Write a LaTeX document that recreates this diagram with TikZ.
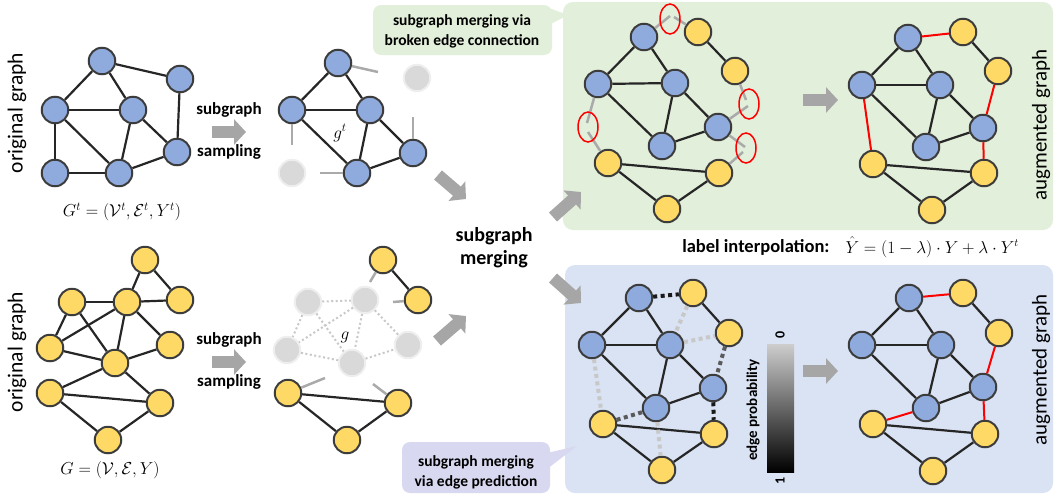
\documentclass[tikz,border=0pt]{standalone}
\usepackage{fontspec}
\setmainfont{Carlito}
\usetikzlibrary{arrows.meta,positioning,shapes.geometric}

\definecolor{nodeblue}{RGB}{143,170,220}
\definecolor{nodeyellow}{RGB}{255,217,102}
\definecolor{nodegray}{RGB}{217,217,217}
\definecolor{linkdark}{RGB}{38,38,38}
\definecolor{stubgray}{RGB}{170,170,170}
\definecolor{arrowgray}{RGB}{166,166,166}
\definecolor{panelgreen}{RGB}{226,239,218}
\definecolor{panelblue}{RGB}{218,227,243}
\definecolor{calloutpurple}{RGB}{216,216,241}
\definecolor{problight}{RGB}{200,200,200}
\definecolor{probmid}{RGB}{90,90,90}
\definecolor{probdark}{RGB}{25,25,25}

\tikzset{
  vtx/.style={circle, minimum size=26.5pt, inner sep=0pt, line width=2pt, draw=linkdark!90},
  bvtx/.style={vtx, fill=nodeblue},
  yvtx/.style={vtx, fill=nodeyellow},
  gvtx/.style={circle, minimum size=26.5pt, inner sep=0pt, line width=2pt, draw=nodegray!45, fill=nodegray},
  link/.style={line width=2.2pt, draw=linkdark},
  newlink/.style={line width=2pt, draw=red},
  stub/.style={line width=2.5pt, draw=stubgray},
  ghostlink/.style={line width=2pt, draw=problight, dash pattern=on 2pt off 2.5pt},
  problink/.style={line width=4pt, dash pattern=on 4pt off 3.5pt},
  redring/.style={ellipse, draw=red, line width=1.5pt, minimum width=20pt, minimum height=30pt, inner sep=0pt},
  fatarrow/.style={draw=arrowgray, line width=12pt, -{Triangle[length=12pt,width=25pt]}},
  steplbl/.style={font=\fontsize{17}{19}\selectfont\bfseries, align=center},
  sidelbl/.style={font=\fontsize{21.5}{24}\selectfont, rotate=90},
  mathlbl/.style={font=\fontsize{17.5}{20}\selectfont},
  callout/.style={font=\fontsize{15.5}{20}\selectfont\bfseries, align=center},
  barlbl/.style={font=\fontsize{14}{16}\selectfont\bfseries, rotate=90},
}

\begin{document}
\begin{tikzpicture}[x=1pt,y=-1pt]
\useasboundingbox (0,0) rectangle (1062,496);

% panels and callouts
\fill[panelgreen, rounded corners=10pt] (563,2) rectangle (1053,230);
\fill[panelblue, rounded corners=10pt] (565,265) rectangle (1053,493);
\fill[panelgreen, rounded corners=8pt] (373,5) rectangle (552,55);
\fill[panelgreen] (549,8) -- (568,15) -- (549,25) -- cycle;
\fill[calloutpurple, rounded corners=8pt] (402,442) rectangle (550,493);
\fill[calloutpurple] (547,453) -- (577,446) -- (547,469) -- cycle;
\node[callout] (cb1) at (462,31) {subgraph merging via\\broken edge connection};
\node[callout] (cb2) at (476,472) {subgraph merging\\via edge prediction};

% original graph G^t
\node[sidelbl] (orig1) at (17,113) {original graph};
\node[bvtx] (ta) at (102,61) {};
\node[bvtx] (tb) at (180,79) {};
\node[bvtx] (tc) at (55,110) {};
\node[bvtx] (td) at (133,110) {};
\node[bvtx] (te) at (177,152) {};
\node[bvtx] (tf) at (55,173) {};
\node[bvtx] (tg) at (119,173) {};
\draw[link] (ta) -- (tb); \draw[link] (ta) -- (tc); \draw[link] (ta) -- (td);
\draw[link] (tb) -- (te); \draw[link] (tc) -- (td); \draw[link] (tc) -- (tf);
\draw[link] (tc) -- (tg); \draw[link] (td) -- (tg); \draw[link] (td) -- (te);
\draw[link] (tf) -- (tg); \draw[link] (tg) -- (te);
\node[mathlbl] (gtdef) at (122,212) {$G^t=(\mathcal{V}^t,\mathcal{E}^t,Y^t)$};

% original graph G
\node[sidelbl] (orig2) at (17,352) {original graph};
\node[yvtx] (ba) at (145,260) {};
\node[yvtx] (bb) at (72,302) {};
\node[yvtx] (bc) at (127,302) {};
\node[yvtx] (bd) at (180,300) {};
\node[yvtx] (be) at (50,348) {};
\node[yvtx] (bf) at (170,345) {};
\node[yvtx] (bg) at (115,363) {};
\node[yvtx] (bh) at (50,393) {};
\node[yvtx] (bi) at (160,403) {};
\node[yvtx] (bj) at (108,440) {};
\draw[link] (ba) -- (bc); \draw[link] (ba) -- (bd); \draw[link] (bb) -- (bc);
\draw[link] (bc) -- (bd); \draw[link] (bb) -- (be); \draw[link] (bb) -- (bg);
\draw[link] (bc) -- (be); \draw[link] (bc) -- (bg); \draw[link] (bc) -- (bf);
\draw[link] (be) -- (bg); \draw[link] (bg) -- (bf); \draw[link] (bg) -- (bh);
\draw[link] (bg) -- (bi); \draw[link] (bh) -- (bi); \draw[link] (bh) -- (bj);
\draw[link] (bi) -- (bj);
\node[mathlbl] (gdef) at (110,470) {$G=(\mathcal{V},\mathcal{E},Y)$};

% subgraph sampling
\node[steplbl] (samp1a) at (229,110) {subgraph};
\node[steplbl] (samp1b) at (229,152) {sampling};
\node[steplbl] (samp2a) at (229,340) {subgraph};
\node[steplbl] (samp2b) at (229,382) {sampling};
\coordinate (s1a) at (212,132); \coordinate (s1b) at (246,132);
\coordinate (s2a) at (212,362); \coordinate (s2b) at (246,362);
\draw[fatarrow] (s1a) -- (s1b);
\draw[fatarrow] (s2a) -- (s2b);

% sampled subgraph g^t
\node[gvtx] (sx1) at (417,78) {};
\node[gvtx] (sx2) at (292,173) {};
\node[bvtx] (sa) at (338,63) {};
\node[bvtx] (sb) at (292,110) {};
\node[bvtx] (sc) at (370,110) {};
\node[bvtx] (sd) at (413,153) {};
\node[bvtx] (se) at (357,173) {};
\draw[link] (sa) -- (sb); \draw[link] (sa) -- (sc); \draw[link] (sb) -- (sc);
\draw[link] (sb) -- (se); \draw[link] (sc) -- (se); \draw[link] (sc) -- (sd);
\draw[link] (sd) -- (se);
\draw[stub] (sa) -- ++(40,9);
\draw[stub] (sb) -- ++(0,35);
\draw[stub] (sd) -- ++(0,-36);
\draw[stub] (se) -- ++(-37,0);
\node[mathlbl] (gtlbl) at (340,133) {$g^t$};

% sampled subgraph g
\node[gvtx] (m1) at (308,302) {};
\node[gvtx] (m2) at (365,300) {};
\node[gvtx] (m3) at (287,350) {};
\node[gvtx] (m4) at (408,345) {};
\node[gvtx] (m5) at (352,363) {};
\draw[ghostlink] (m1) -- (m2); \draw[ghostlink] (m1) -- (m3);
\draw[ghostlink] (m1) -- (m5); \draw[ghostlink] (m2) -- (m3);
\draw[ghostlink] (m2) -- (m5); \draw[ghostlink] (m2) -- (m4);
\draw[ghostlink] (m3) -- (m5); \draw[ghostlink] (m5) -- (m4);
\node[yvtx] (ma) at (383,260) {};
\node[yvtx] (mb) at (418,300) {};
\node[yvtx] (mc) at (288,393) {};
\node[yvtx] (md) at (398,403) {};
\node[yvtx] (me) at (347,440) {};
\draw[link] (ma) -- (mb); \draw[link] (mc) -- (md);
\draw[link] (mc) -- (me); \draw[link] (md) -- (me);
\draw[stub] (ma) -- ++(-13,22);
\draw[stub] (mb) -- ++(-25,2);
\draw[stub] (mc) -- ++(37,-15);
\draw[stub] (md) -- ++(-25,-19);
\node[mathlbl] (glbl) at (345,337) {$g$};

% subgraph merging
\node[steplbl, font=\fontsize{20}{23}\selectfont\bfseries] (merge) at (494,248) {subgraph\\merging};
\coordinate (m1a) at (438,175); \coordinate (m1b) at (466,199);
\coordinate (m2a) at (437,341); \coordinate (m2b) at (466,316);
\coordinate (g1a) at (553,217); \coordinate (g1b) at (581,192);
\coordinate (b1a) at (553,278); \coordinate (b1b) at (581,303);
\draw[fatarrow] (m1a) -- (m1b);
\draw[fatarrow] (m2a) -- (m2b);
\draw[fatarrow] (g1a) -- (g1b);
\draw[fatarrow] (b1a) -- (b1b);

% broken edge connection
\node[bvtx] (ga) at (644,37) {};
\node[bvtx] (gc) at (598,84) {};
\node[bvtx] (gd) at (675,83) {};
\node[bvtx] (ge) at (718,127) {};
\node[bvtx] (gg) at (662,146) {};
\node[yvtx] (gy1) at (698,32) {};
\node[yvtx] (gy2) at (735,71) {};
\node[yvtx] (gy3) at (608,163) {};
\node[yvtx] (gy4) at (719,173) {};
\node[yvtx] (gy5) at (667,209) {};
\draw[link] (ga) -- (gc); \draw[link] (ga) -- (gd); \draw[link] (gc) -- (gd);
\draw[link] (gc) -- (gg); \draw[link] (gd) -- (gg); \draw[link] (gd) -- (ge);
\draw[link] (ge) -- (gg);
\draw[link] (gy1) -- (gy2); \draw[link] (gy3) -- (gy4);
\draw[link] (gy3) -- (gy5); \draw[link] (gy4) -- (gy5);
\draw[stub] (ga) -- ++(26,-21);  \draw[stub] (gy1) -- ++(-24,-15);
\draw[stub] (gc) -- ++(-11,39);  \draw[stub] (gy3) -- ++(-20,-31);
\draw[stub] (gy2) -- ++(11,29);  \draw[stub] (ge) -- ++(30,-21);
\draw[stub] (ge) -- ++(27,20);   \draw[stub] (gy4) -- ++(24,-21);
\node[redring] (r1) at (670,19) {};
\node[redring] (r2) at (588,127) {};
\node[redring] (r3) at (749,104) {};
\node[redring] (r4) at (746,148) {};

\coordinate (au1a) at (803,100); \coordinate (au1b) at (838,100);
\draw[fatarrow] (au1a) -- (au1b);

% augmented graph (broken edges)
\node[bvtx] (ha) at (908,38) {};
\node[bvtx] (hc) at (862,85) {};
\node[bvtx] (hd) at (940,85) {};
\node[bvtx] (he) at (983,128) {};
\node[bvtx] (hg) at (926,147) {};
\node[yvtx] (hy1) at (963,32) {};
\node[yvtx] (hy2) at (998,71) {};
\node[yvtx] (hy3) at (873,164) {};
\node[yvtx] (hy4) at (984,173) {};
\node[yvtx] (hy5) at (932,210) {};
\draw[link] (ha) -- (hc); \draw[link] (ha) -- (hd); \draw[link] (hc) -- (hd);
\draw[link] (hc) -- (hg); \draw[link] (hd) -- (hg); \draw[link] (hd) -- (he);
\draw[link] (he) -- (hg);
\draw[link] (hy1) -- (hy2); \draw[link] (hy3) -- (hy4);
\draw[link] (hy3) -- (hy5); \draw[link] (hy4) -- (hy5);
\draw[newlink] (ha) -- (hy1); \draw[newlink] (hc) -- (hy3);
\draw[newlink] (hy2) -- (he); \draw[newlink] (he) -- (hy4);
\node[sidelbl, font=\fontsize{21}{24}\selectfont] (aug1) at (1041,125) {augmented graph};

% label interpolation
\node[steplbl, font=\fontsize{18.5}{21}\selectfont\bfseries, anchor=east] (interp) at (833,247) {label interpolation:};
\node[mathlbl, font=\fontsize{16}{19}\selectfont, right=9pt of interp] (mixy) {$\hat{Y}=(1-\lambda)\cdot Y+\lambda\cdot Y^t$};

% edge prediction
\node[bvtx] (pa) at (639,298) {};
\node[bvtx] (pc) at (592,345) {};
\node[bvtx] (pd) at (670,345) {};
\node[bvtx] (pe) at (713,388) {};
\node[bvtx] (pg) at (656,408) {};
\node[yvtx] (py1) at (693,293) {};
\node[yvtx] (py2) at (729,333) {};
\node[yvtx] (py3) at (603,424) {};
\node[yvtx] (py4) at (714,434) {};
\node[yvtx] (py5) at (662,470) {};
\draw[link] (pa) -- (pc); \draw[link] (pa) -- (pd); \draw[link] (pc) -- (pd);
\draw[link] (pc) -- (pg); \draw[link] (pd) -- (pg); \draw[link] (pd) -- (pe);
\draw[link] (pe) -- (pg);
\draw[link] (py1) -- (py2); \draw[link] (py3) -- (py4);
\draw[link] (py3) -- (py5); \draw[link] (py4) -- (py5);
\draw[problink, probdark] (pa) -- (py1);
\draw[problink, problight] (py1) -- (pd);
\draw[problink, problight] (pd) -- (py2);
\draw[problink, probmid] (py2) -- (pe);
\draw[problink, probdark] (pe) -- (py4);
\draw[problink, problight] (pc) -- (py3);
\draw[problink, probmid] (py3) -- (pg);
\draw[problink, problight] (pg) -- (py5);

% colour bar
\shade[top color=problight!90, bottom color=black] (767,344) rectangle (794,472);
\node[barlbl] (cb0) at (780,335) {0};
\node[barlbl] (cb1v) at (780,481) {1};
\node[barlbl, font=\fontsize{15}{17}\selectfont\bfseries] (cbt) at (753,410) {edge probability};

\coordinate (au2a) at (803,371); \coordinate (au2b) at (838,371);
\draw[fatarrow] (au2a) -- (au2b);

% augmented graph (edge prediction)
\node[bvtx] (qa) at (909,298) {};
\node[bvtx] (qc) at (862,345) {};
\node[bvtx] (qd) at (941,345) {};
\node[bvtx] (qe) at (983,387) {};
\node[bvtx] (qg) at (926,408) {};
\node[yvtx] (qy1) at (963,293) {};
\node[yvtx] (qy2) at (999,333) {};
\node[yvtx] (qy3) at (873,424) {};
\node[yvtx] (qy4) at (985,434) {};
\node[yvtx] (qy5) at (933,471) {};
\draw[link] (qa) -- (qc); \draw[link] (qa) -- (qd); \draw[link] (qc) -- (qd);
\draw[link] (qc) -- (qg); \draw[link] (qd) -- (qg); \draw[link] (qd) -- (qe);
\draw[link] (qe) -- (qg);
\draw[link] (qy1) -- (qy2); \draw[link] (qy3) -- (qy4);
\draw[link] (qy3) -- (qy5); \draw[link] (qy4) -- (qy5);
\draw[newlink] (qa) -- (qy1); \draw[newlink] (qy2) -- (qe);
\draw[newlink] (qe) -- (qy4); \draw[newlink] (qy3) -- (qg);
\node[sidelbl, font=\fontsize{21}{24}\selectfont] (aug2) at (1041,370) {augmented graph};
\end{tikzpicture}
\end{document}
